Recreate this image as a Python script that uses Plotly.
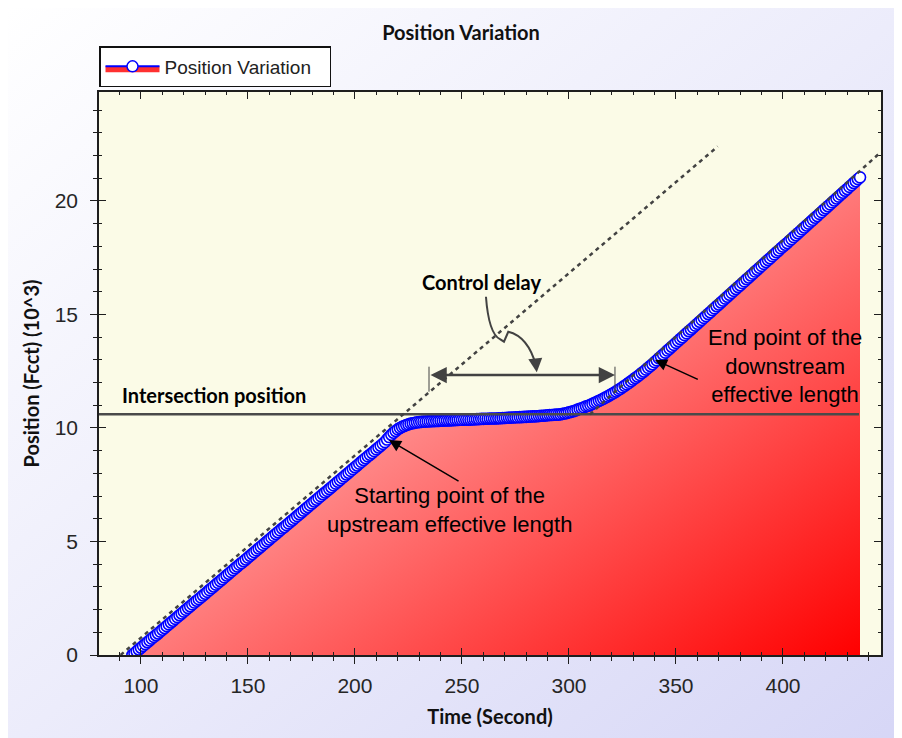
import base64
import plotly.graph_objects as go

# ---------------- data ----------------
time_s = list(range(96, 437))
position_k = [
    0.00, 0.08, 0.16, 0.24, 0.32, 0.40, 0.48, 0.56, 0.64, 0.72,
    0.80, 0.87, 0.95, 1.03, 1.11, 1.19, 1.27, 1.35, 1.43, 1.51,
    1.59, 1.67, 1.75, 1.83, 1.91, 1.99, 2.07, 2.15, 2.23, 2.31,
    2.39, 2.46, 2.54, 2.62, 2.70, 2.78, 2.86, 2.94, 3.02, 3.10,
    3.18, 3.26, 3.34, 3.42, 3.50, 3.58, 3.66, 3.74, 3.82, 3.90,
    3.98, 4.05, 4.13, 4.21, 4.29, 4.37, 4.45, 4.53, 4.61, 4.69,
    4.77, 4.85, 4.93, 5.01, 5.09, 5.17, 5.25, 5.33, 5.41, 5.49,
    5.57, 5.64, 5.72, 5.80, 5.88, 5.96, 6.04, 6.12, 6.20, 6.28,
    6.36, 6.44, 6.52, 6.60, 6.68, 6.76, 6.84, 6.92, 7.00, 7.08,
    7.16, 7.23, 7.31, 7.39, 7.47, 7.55, 7.63, 7.71, 7.79, 7.87,
    7.95, 8.03, 8.11, 8.19, 8.27, 8.35, 8.43, 8.51, 8.59, 8.67,
    8.75, 8.82, 8.90, 8.98, 9.06, 9.14, 9.22, 9.30, 9.38, 9.49,
    9.60, 9.70, 9.79, 9.87, 9.94, 10.00, 10.05, 10.09, 10.13, 10.16,
    10.19, 10.21, 10.23, 10.25, 10.26, 10.27, 10.28, 10.28, 10.29, 10.29,
    10.30, 10.30, 10.31, 10.31, 10.32, 10.32, 10.33, 10.33, 10.33, 10.34,
    10.34, 10.35, 10.35, 10.36, 10.36, 10.37, 10.37, 10.37, 10.37, 10.38,
    10.38, 10.39, 10.39, 10.40, 10.40, 10.41, 10.41, 10.42, 10.42, 10.42,
    10.42, 10.43, 10.43, 10.44, 10.44, 10.45, 10.45, 10.46, 10.46, 10.47,
    10.47, 10.48, 10.48, 10.49, 10.49, 10.50, 10.50, 10.51, 10.51, 10.52,
    10.53, 10.54, 10.54, 10.55, 10.56, 10.57, 10.57, 10.58, 10.59, 10.59,
    10.60, 10.62, 10.64, 10.66, 10.69, 10.71, 10.74, 10.77, 10.81, 10.84,
    10.87, 10.91, 10.95, 10.98, 11.02, 11.06, 11.11, 11.15, 11.20, 11.24,
    11.29, 11.34, 11.39, 11.44, 11.50, 11.55, 11.61, 11.67, 11.73, 11.79,
    11.86, 11.92, 11.99, 12.06, 12.13, 12.20, 12.27, 12.34, 12.42, 12.49,
    12.57, 12.65, 12.73, 12.81, 12.90, 12.98, 13.07, 13.15, 13.24, 13.32,
    13.41, 13.49, 13.58, 13.66, 13.75, 13.83, 13.92, 14.00, 14.09, 14.17,
    14.26, 14.34, 14.42, 14.51, 14.59, 14.68, 14.76, 14.85, 14.93, 15.02,
    15.10, 15.19, 15.27, 15.36, 15.44, 15.53, 15.61, 15.70, 15.78, 15.87,
    15.95, 16.04, 16.12, 16.21, 16.29, 16.38, 16.46, 16.55, 16.63, 16.72,
    16.80, 16.89, 16.97, 17.06, 17.14, 17.23, 17.31, 17.40, 17.48, 17.57,
    17.65, 17.74, 17.82, 17.91, 17.99, 18.07, 18.15, 18.24, 18.32, 18.41,
    18.49, 18.58, 18.66, 18.75, 18.83, 18.92, 19.00, 19.09, 19.17, 19.26,
    19.34, 19.43, 19.51, 19.60, 19.68, 19.77, 19.85, 19.94, 20.02, 20.11,
    20.19, 20.28, 20.36, 20.45, 20.53, 20.62, 20.70, 20.79, 20.87, 20.96,
    21.04,
]

intersection_position = 10.6
upstream_ref = ([90.5, 369.5], [0.0, 22.4])        # dashed free-flow line (upstream)
downstream_ref = ([309.8, 445.8], [10.6, 22.16])   # dashed free-flow line (downstream)
delay_span = [234.6, 321.5]
delay_level = 12.33

x_range = [80.4, 445.8]
y_range = [0, 24.8]

PLOT_BG = "#fbfbe7"
W, H = 902, 738
ML, MR, MT, MB = 91, 29, 84, 91
PW, PH = W - ML - MR, H - MT - MB


def svg_uri(stops, x2=1, y2=1):
    st = "".join(f'<stop offset="{o}" stop-color="{c}"/>' for o, c in stops)
    svg = ('<svg xmlns="http://www.w3.org/2000/svg" width="200" height="200" '
           'viewBox="0 0 200 200" preserveAspectRatio="none"><defs>'
           f'<linearGradient id="g" x1="0" y1="0" x2="{x2}" y2="{y2}">{st}</linearGradient>'
           '</defs><rect x="0" y="0" width="200" height="200" fill="url(#g)"/></svg>')
    return "data:image/svg+xml;base64," + base64.b64encode(svg.encode()).decode()


red_grad = svg_uri([(0, "#ffcaca"), (0.45, "#ff8888"), (1, "#ff0000")])
paper_grad = svg_uri([(0, "#ffffff"), (0.5, "#ececfb"), (1, "#d6d6f6")])

fig = go.Figure()

# cover above the curve (hides the gradient image above the curve)
top = max(position_k) + 0.5
cover_x = time_s + [time_s[-1], time_s[0] - 1.5, time_s[0] - 1.5]
cover_y = position_k + [top, top, position_k[0]]
fig.add_trace(go.Scatter(x=cover_x, y=cover_y, mode="lines", line=dict(width=0),
                         fill="toself", fillcolor=PLOT_BG, hoverinfo="skip",
                         showlegend=False))

# legend entry
fig.add_trace(go.Scatter(x=[None], y=[None], mode="lines+markers", name="Position Variation",
                         fill="tozeroy", fillcolor="#ff3030",
                         line=dict(color="#0000ff", width=2),
                         marker=dict(symbol="circle", size=11, color="white",
                                     line=dict(color="#0000ff", width=1.5)),
                         showlegend=True))

# main curve on the overlay axes
fig.add_trace(go.Scatter(x=time_s, y=position_k, mode="lines+markers",
                         name="Position Variation", showlegend=False,
                         line=dict(color="#0000ff", width=2),
                         marker=dict(symbol="circle", size=11, color="white",
                                     line=dict(color="#0000ff", width=1.6)),
                         xaxis="x2", yaxis="y2"))

tickfont = dict(family="Liberation Sans, Arial", size=21, color="#262626")
titlefont = dict(family="Lato", size=20, color="#111111")

common_x = dict(range=x_range, tick0=100, dtick=50, linecolor="#1e1e1e", linewidth=1.5,
                tickcolor="#1e1e1e", tickwidth=1.3, showgrid=False, zeroline=False)
common_y = dict(range=y_range, tick0=0, dtick=5, linecolor="#1e1e1e", linewidth=1.5,
                tickcolor="#1e1e1e", tickwidth=1.3, showgrid=False, zeroline=False)

fig.update_layout(
    width=W, height=H,
    margin=dict(l=ML, r=MR, t=MT, b=MB),
    paper_bgcolor="white",
    plot_bgcolor=PLOT_BG,
    title=dict(text="<b>Position Variation</b>", x=(461 - 8) / W, xanchor="center",
               xref="container", y=1 - 25 / H, yanchor="middle", yref="container",
               font=dict(family="Lato", size=20, color="#111111")),
    xaxis=dict(**common_x, showline=True, mirror=True, ticks="outside", ticklen=7,
               showticklabels=True, tickfont=tickfont, ticklabelstandoff=4,
               minor=dict(dtick=10, ticks="outside", ticklen=4, tickcolor="#1e1e1e", tickwidth=1.2),
               title=dict(text="<b>Time (Second)</b>", font=titlefont, standoff=14)),
    yaxis=dict(**common_y, showline=True, mirror=True, ticks="outside", ticklen=7,
               showticklabels=True, tickfont=tickfont, ticklabelstandoff=8,
               minor=dict(dtick=1, ticks="outside", ticklen=4, tickcolor="#1e1e1e", tickwidth=1.2),
               title=dict(text="<b>Position (Fcct) (10^3)</b>", font=titlefont, standoff=10)),
    xaxis2=dict(**common_x, overlaying="x", anchor="y2", side="bottom", showline=False,
                mirror="ticks", ticks="inside", ticklen=7, showticklabels=False,
                minor=dict(dtick=10, ticks="inside", ticklen=3, tickcolor="#1e1e1e", tickwidth=1.2)),
    yaxis2=dict(**common_y, overlaying="y", anchor="x2", side="left", showline=False,
                mirror="ticks", ticks="inside", ticklen=7, showticklabels=False,
                minor=dict(dtick=1, ticks="inside", ticklen=3, tickcolor="#1e1e1e", tickwidth=1.2)),
    legend=dict(x=0, y=1 + (MT - 38) / PH, xanchor="left", yanchor="top",
                orientation="h", bgcolor="white", bordercolor="#111111", borderwidth=1.5,
                font=dict(family="Liberation Sans, Arial", size=19, color="#222222"),
                itemwidth=54, entrywidth=160),
    showlegend=True,
)

# background: paper gradient, then plot-area colour
fig.add_layout_image(source=paper_grad, xref="paper", yref="paper",
                     x=-ML / PW, y=1 + MT / PH, sizex=W / PW, sizey=H / PH,
                     xanchor="left", yanchor="top", sizing="stretch", layer="below")
fig.add_shape(type="rect", xref="paper", yref="paper", x0=0, x1=1, y0=0, y1=1,
              fillcolor=PLOT_BG, line=dict(width=0), layer="below")
# red gradient under the curve
fig.add_layout_image(source=red_grad, xref="x", yref="y",
                     x=time_s[0], y=max(position_k), sizex=time_s[-1] - time_s[0],
                     sizey=max(position_k), xanchor="left", yanchor="top",
                     sizing="stretch", layer="below")

line_col = "#424242"
fig.add_shape(type="line", xref="x", yref="y", x0=x_range[0], x1=435.5,
              y0=intersection_position, y1=intersection_position,
              line=dict(color="#4a4a4a", width=2.5))
for xs, ys in (upstream_ref, downstream_ref):
    fig.add_shape(type="line", xref="x", yref="y", x0=xs[0], x1=xs[1], y0=ys[0], y1=ys[1],
                  line=dict(color=line_col, width=2.5, dash="4px,4px"))
for xv in delay_span:
    fig.add_shape(type="line", xref="x", yref="y", x0=xv, x1=xv, y0=11.6, y1=12.7,
                  line=dict(color=line_col, width=1))
fig.add_shape(type="path", xref="x", yref="y",
              path="M261.21,15.78 Q262.5,14.16 267.76,13.91 L269.63,13.80 L271.64,14.24 "
                   "Q280.9,14.03 284.6,12.75",
              line=dict(color=line_col, width=2))

ann = []
ann.append(dict(x=delay_span[1], y=delay_level, ax=delay_span[0], ay=delay_level,
                xref="x", yref="y", axref="x", ayref="y", text="", showarrow=True,
                arrowhead=2, startarrowhead=2, arrowside="end+start", arrowsize=1.3,
                startarrowsize=1.3, arrowwidth=2.5, arrowcolor=line_col))
ann.append(dict(x=284.95, y=12.45, ax=284.5, ay=12.85, xref="x", yref="y", axref="x",
                ayref="y", text="", showarrow=True, arrowhead=2, arrowsize=1.4,
                arrowwidth=2, arrowcolor=line_col))
ann.append(dict(x=215.9, y=9.47, ax=249.1, ay=7.62, xref="x", yref="y", axref="x",
                ayref="y", text="", showarrow=True, arrowhead=2, arrowsize=1.6,
                arrowwidth=1.5, arrowcolor="#000000"))
ann.append(dict(x=340.2, y=13.0, ax=360.9, ay=12.11, xref="x", yref="y", axref="x",
                ayref="y", text="", showarrow=True, arrowhead=2, arrowsize=1.6,
                arrowwidth=1.5, arrowcolor="#000000"))

bold = dict(family="Lato", size=20, color="#000000")
reg = dict(family="Liberation Sans, Arial", size=22, color="#000000")
ann.append(dict(x=90.2, y=11.45, xref="x", yref="y", text="<b>Intersection position</b>",
                showarrow=False, xanchor="left", yanchor="middle", font=bold))
ann.append(dict(x=259.3, y=16.43, xref="x", yref="y", text="<b>Control delay</b>",
                showarrow=False, xanchor="center", yanchor="middle", font=bold))
ann.append(dict(x=244.4, y=6.39, xref="x", yref="y",
                text="Starting point of the<br>upstream effective length",
                showarrow=False, xanchor="center", yanchor="middle", font=reg))
ann.append(dict(x=400.9, y=12.73, xref="x", yref="y",
                text="End point of the<br>downstream<br>effective length",
                showarrow=False, xanchor="center", yanchor="middle", font=reg))
fig.update_layout(annotations=ann)

fig.write_html("out.html")
